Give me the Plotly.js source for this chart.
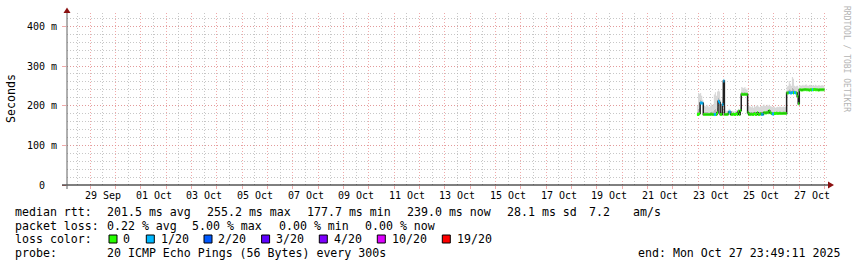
<!DOCTYPE html>
<html><head><meta charset="utf-8">
<script src="https://cdn.plot.ly/plotly-3.0.1.min.js"></script>
<style>html,body{margin:0;padding:0;background:#fff}#chart{width:857px;height:267px}</style>
</head><body><div id="chart"></div>
<script>
// ---------------- data ----------------
const firstSample = '2025-10-22T23:00:00Z';   // hourly samples start
const endTime = '2025-10-27T23:49:11Z';
const rangeStart = '2025-09-28 01:53:00';
const rangeEnd = '2025-10-28 03:13:00';

const medianMs = [178,178,180,207,207,206,178,178,178,178,178,178,178,179,178,178,178,178,178,182,
211,208,178,178,203,262,178,178,178,179,184,184,178,178,179,178,178,180,178,186,
178,188,229,228,228,229,228,229,182,178,178,179,178,178,180,178,178,182,178,178,
180,178,178,182,182,181,183,182,187,182,181,179,179,180,180,181,180,180,181,180,
180,180,181,180,180,232,232,233,232,232,233,232,233,232,232,224,205,
240,240,239,240,240,241,240,240,240,239,240,240,240,240,241,240,240,240,239,240,240,240,240,240];
const lossCount = [0,0,0,1,1,1,0,0,0,0,0,0,0,0,0,0,1,1,0,0,
1,1,0,0,1,1,0,0,0,0,1,1,0,0,0,0,0,0,0,0,
0,0,0,0,0,0,0,0,0,0,0,0,0,0,0,0,0,0,0,0,
0,1,1,0,0,0,0,0,0,0,0,1,1,0,0,0,0,0,0,0,
0,0,0,0,0,0,0,1,1,1,1,0,1,1,0,0,0,
0,0,0,0,0,0,0,0,0,0,0,0,1,0,0,0,0,0,0,0,0,0,0,0];
const smokeMaxMs = [200,232,230,232,225,215,205,200,198,202,200,196,199,205,200,204,228,234,225,236,
238,236,215,205,222,268,200,188,186,188,192,190,186,187,186,185,187,188,186,192,
187,196,247,245,244,247,240,243,200,200,198,196,200,195,199,197,200,201,198,196,
199,198,200,203,200,199,202,200,202,199,198,197,196,197,195,196,197,196,198,197,
196,197,198,196,197,248,250,262,255,250,272,268,250,248,250,250,245,
252,250,251,253,250,252,254,251,250,252,253,250,251,252,250,253,251,250,252,251,250,252,251,250];
const smokeMidMs = [185,192,195,214,213,209,186,185,184,185,184,183,184,186,185,186,190,192,188,195,
220,216,186,184,209,265,184,181,181,182,187,186,181,181,181,180,181,182,181,188,
181,191,236,234,234,235,233,234,188,185,184,185,185,184,186,184,185,187,184,184,
186,185,186,188,188,187,189,188,191,187,186,185,185,186,185,186,186,185,186,186,
185,186,186,185,186,238,239,242,240,238,245,243,239,238,238,234,222,
245,244,244,246,244,245,246,245,244,245,246,244,245,245,244,246,245,244,245,245,244,245,245,244];

const lossLevels = [0,1,2,3,4,10,19];
const lossLabels = ['0','1/20','2/20','3/20','4/20','10/20','19/20'];
const lossColors = ['#26ff00','#00b8ff','#0059ff','#5e00ff','#7e00ff','#dd00ff','#ff0000'];

const xTickDates = ['2025-09-29 12:00','2025-10-01 12:00','2025-10-03 12:00','2025-10-05 12:00',
 '2025-10-07 12:00','2025-10-09 12:00','2025-10-11 12:00','2025-10-13 12:00','2025-10-15 12:00',
 '2025-10-17 12:00','2025-10-19 12:00','2025-10-21 12:00','2025-10-23 12:00','2025-10-25 12:00','2025-10-27 12:00'];
const xTickLabels = ['29 Sep','01 Oct','03 Oct','05 Oct','07 Oct','09 Oct','11 Oct','13 Oct','15 Oct',
 '17 Oct','19 Oct','21 Oct','23 Oct','25 Oct','27 Oct'];
const yTickVals = [0,100,200,300,400];
const yTickText = ['0\u00a0\u00a0','100 m','200 m','300 m','400 m'];

const statLine1 = ['median rtt:','201.5 ms avg','255.2 ms max','177.7 ms min','239.0 ms now','28.1 ms sd','7.2','am/s'];
const statLine2 = ['packet loss:','0.22 % avg','5.00 % max','0.00 % min','0.00 % now'];
const probeText = ['probe:','20 ICMP Echo Pings (56 Bytes) every 300s'];
const endText = 'end: Mon Oct 27 23:49:11 2025';

// ---------------- geometry helpers ----------------
const W=857,H=267,L=67,R=828,T=13,B=185;
const px = p => (p-L)/(R-L);
const py = p => (B-p)/(B-T);
const MONO = 'DejaVu Sans Mono, monospace';

const HOUR = 3600000;
const t0 = Date.parse(firstSample);
const tEnd = Date.parse(endTime);
const times = medianMs.map((_,i)=>t0+i*HOUR);
const tx = times.concat([tEnd]);
const ext = a => a.concat([a[a.length-1]]);

function levelIdx(c){ for(let k=0;k<lossLevels.length;k++){ if(c<=lossLevels[k]) return k; } return lossLevels.length-1; }

const traces = [];
// smoke
traces.push({x:tx,y:ext(medianMs),mode:'lines',line:{width:0,shape:'hv'},hoverinfo:'skip',showlegend:false});
traces.push({x:tx,y:ext(smokeMidMs),mode:'lines',line:{width:0,shape:'hv'},fill:'tonexty',fillcolor:'#b4b4b4',hoverinfo:'skip',showlegend:false});
traces.push({x:tx,y:ext(smokeMaxMs),mode:'lines',line:{width:0,shape:'hv'},fill:'tonexty',fillcolor:'#d8d8d8',hoverinfo:'skip',showlegend:false});
// black median line
traces.push({x:tx,y:ext(medianMs),mode:'lines',line:{width:1.5,shape:'hv',color:'#202020'},hoverinfo:'skip',showlegend:false});
// loss colored bands
const segs = lossLevels.map(()=>({x:[],y:[]}));
medianMs.forEach((m,i)=>{
  const k = levelIdx(lossCount[i]);
  segs[k].x.push(tx[i],tx[i+1],null);
  segs[k].y.push(m,m,null);
});
segs.forEach((s,k)=>{
  if(s.x.length) traces.push({x:s.x,y:s.y,mode:'lines',line:{width:3,color:lossColors[k]},hoverinfo:'skip',showlegend:false,connectgaps:false});
});

const gridRed = 'rgba(235,140,140,0.75)';
const gridGray = 'rgba(175,175,175,0.7)';

const annotations = [];
const shapes = [];
function addText(text,xp,yp,opts={}){
  annotations.push(Object.assign({text:text.replace(/ /g,'\u00a0'),xref:'paper',yref:'paper',x:px(xp),y:py(yp),
    xanchor:'left',yanchor:'middle',showarrow:false,borderpad:0,borderwidth:0,
    font:{family:MONO,size:11.6,color:'#000'}},opts));
}
// x tick labels
xTickDates.forEach((d,i)=>{
  annotations.push({text:xTickLabels[i].replace(/ /g,'\u00a0'),xref:'x',yref:'paper',x:d,y:py(195),xanchor:'center',yanchor:'middle',
    showarrow:false,borderpad:0,font:{family:MONO,size:10,color:'#000'}});
});
// y title
addText('Seconds',11,99,{textangle:-90,xanchor:'center',font:{family:MONO,size:11.6,color:'#000'}});
// watermark
addText('RRDTOOL / TOBI OETIKER',847,59,{textangle:90,xanchor:'center',font:{family:MONO,size:8,color:'#b4b4b4'}});
// stats lines
const l1x=[15.3,106.6,206.6,306.6,406.6,506.6,588.6,633.3];
statLine1.forEach((s,i)=>addText(s,l1x[i],211.5));
const l2x=[15.3,106.6,192,278.6,365.3];
statLine2.forEach((s,i)=>addText(s,l2x[i],225.5));
addText('loss color:',15.3,239.3);
const sqx=[109,146.3,204,261.6,319.3,377.3,442.3];
lossLabels.forEach((lab,k)=>{
  shapes.push({type:'rect',xref:'paper',yref:'paper',x0:px(sqx[k]),x1:px(sqx[k]+8),y0:py(243),y1:py(235),
    fillcolor:lossColors[k],line:{color:'#000',width:1},layer:'above'});
  addText(lab,sqx[k]+14.3,239.3);
});
addText(probeText[0],15.3,253.3);
addText(probeText[1],106.6,253.3);
addText(endText,840,253.3,{xanchor:'right'});

// axis lines and arrows
shapes.push({type:'line',xref:'paper',yref:'paper',x0:px(62),x1:px(829),y0:0,y1:0,line:{color:'#000',width:1},layer:'above'});
shapes.push({type:'line',xref:'paper',yref:'paper',x0:0,x1:0,y0:py(189),y1:py(12),line:{color:'#606060',width:1},layer:'above'});
shapes.push({type:'path',xref:'paper',yref:'paper',
  path:`M ${px(828)} ${py(181.5)} L ${px(834)} ${py(185)} L ${px(828)} ${py(188.5)} Z`,fillcolor:'#8b1010',line:{width:0},layer:'above'});
shapes.push({type:'path',xref:'paper',yref:'paper',
  path:`M ${px(63.5)} ${py(13)} L ${px(67)} ${py(7.5)} L ${px(70.5)} ${py(13)} Z`,fillcolor:'#8b1010',line:{width:0},layer:'above'});

const layout = {
  width:W,height:H,margin:{l:L,r:W-R,t:T,b:H-B,pad:0},
  paper_bgcolor:'#ffffff',plot_bgcolor:'#ffffff',showlegend:false,
  xaxis:{type:'date',range:[rangeStart,rangeEnd],tick0:'2025-09-29 00:00',dtick:86400000,
    showgrid:true,gridcolor:gridRed,griddash:'1px,2px',gridwidth:1,
    minor:{dtick:43200000,tick0:'2025-09-29 00:00',showgrid:true,gridcolor:gridGray,griddash:'1px,2px',gridwidth:1},
    showticklabels:false,ticks:'outside',ticklen:3,tickcolor:gridRed,zeroline:false,showline:false,fixedrange:true},
  yaxis:{range:[0,433.6],tickvals:yTickVals,ticktext:yTickText,
    showgrid:true,gridcolor:gridRed,griddash:'1px,2px',gridwidth:1,
    minor:{dtick:20,tick0:0,showgrid:true,gridcolor:gridGray,griddash:'1px,2px',gridwidth:1},
    ticks:'outside',ticklen:4,tickcolor:gridRed,ticklabelstandoff:3,
    tickfont:{family:MONO,size:10,color:'#000'},zeroline:false,showline:false,fixedrange:true},
  annotations:annotations,shapes:shapes
};
Plotly.newPlot('chart',traces,layout,{staticPlot:true,displayModeBar:false});
</script></body></html>
